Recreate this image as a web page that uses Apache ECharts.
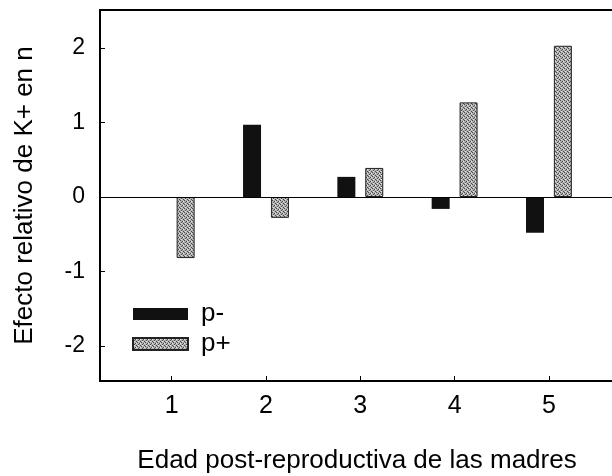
<!DOCTYPE html>
<html>
<head>
    <meta charset="utf-8">
    <title>Efecto relativo de K+ en n</title>
    <script src="https://cdn.jsdelivr.net/npm/echarts@6/dist/echarts.min.js"></script>
    <style>
        html, body {
            margin: 0;
            padding: 0;
            width: 612px;
            height: 476px;
            overflow: hidden;
            background: #fff;
        }

        #main {
            width: 612px;
            height: 476px;
        }
    </style>
</head>
<body>
<div id="main"></div>
<script type="text/javascript">
    var myChart = echarts.init(document.getElementById('main'));

    // 数据
    const ages = [1, 2, 3, 4, 5];
    const pMinus = [null, 0.97, 0.27, -0.16, -0.48];
    const pPlus = [-0.82, -0.28, 0.39, 1.27, 2.03];
    const yTicks = [-2, -1, 0, 1, 2];
    const seriesNames = ['p-', 'p+'];

    const font = 'Liberation Sans, Arial, sans-serif';

    // 点状灰色填充
    function stipple() {
        const c = document.createElement('canvas');
        c.width = 4;
        c.height = 4;
        const ctx = c.getContext('2d');
        ctx.fillStyle = '#b2b2b2';
        ctx.fillRect(0, 0, 4, 4);
        ctx.fillStyle = '#4a4a4a';
        ctx.fillRect(0, 0, 1, 1);
        ctx.fillRect(2, 1, 1, 1);
        ctx.fillRect(1, 2, 1, 1);
        ctx.fillRect(3, 3, 1, 1);
        ctx.fillStyle = '#e6e6e6';
        ctx.fillRect(3, 1, 1, 1);
        ctx.fillRect(1, 3, 1, 1);
        return {image: c, repeat: 'repeat'};
    }

    const pairs = vals => ages.map((a, i) => [a, vals[i] === null ? '-' : vals[i]]);

    const xMin = 0.24, xMax = 5.69;
    const yMin = -2.47, yMax = 2.51;

    var option = {
        animation: false,
        grid: {
            show: true,
            borderColor: '#000',
            borderWidth: 2,
            outerBoundsMode: 'none',
            left: 100,
            right: -2,
            top: 10,
            bottom: 95
        },
        legend: {
            orient: 'vertical',
            left: 127,
            top: 296,
            icon: 'rect',
            itemWidth: 55,
            itemHeight: 12,
            itemGap: 4,
            data: seriesNames,
            textStyle: {
                fontFamily: font,
                fontSize: 26,
                lineHeight: 26,
                padding: [0, 0, 0, 8],
                color: '#000'
            }
        },
        xAxis: {
            type: 'value',
            min: xMin,
            max: xMax,
            name: 'Edad post-reproductiva de las madres',
            nameLocation: 'middle',
            nameGap: 67,
            nameTextStyle: {
                fontFamily: font,
                fontSize: 26,
                color: '#000'
            },
            axisLine: {show: true, onZero: false, lineStyle: {color: '#000', width: 1.5}},
            axisTick: {show: true, inside: true, length: 5, customValues: ages, lineStyle: {color: '#000'}},
            axisLabel: {
                customValues: ages,
                margin: 13,
                fontFamily: font,
                fontSize: 25,
                color: '#000'
            },
            splitLine: {show: false}
        },
        yAxis: {
            type: 'value',
            min: yMin,
            max: yMax,
            name: 'Efecto relativo de K+ en n',
            nameLocation: 'middle',
            nameGap: 62,
            nameTextStyle: {
                fontFamily: font,
                fontSize: 26,
                color: '#000'
            },
            axisLine: {show: true, onZero: false, lineStyle: {color: '#000', width: 1}},
            axisTick: {show: true, inside: true, length: 5, customValues: yTicks, lineStyle: {color: '#000'}},
            axisLabel: {
                customValues: yTicks,
                margin: 15,
                fontFamily: font,
                fontSize: 23,
                color: '#000'
            },
            splitLine: {show: false}
        },
        series: [{
            name: seriesNames[0],
            type: 'bar',
            barWidth: 18,
            barGap: '55%',
            itemStyle: {color: '#111'},
            data: pairs(pMinus),
            markLine: {
                silent: true,
                symbol: 'none',
                label: {show: false},
                lineStyle: {color: '#000', width: 1.2, type: 'solid'},
                data: [{yAxis: 0}]
            }
        }, {
            name: seriesNames[1],
            type: 'bar',
            barWidth: 18,
            barGap: '55%',
            itemStyle: {color: stipple(), borderColor: '#222', borderWidth: 1},
            data: pairs(pPlus)
        }]
    };

    myChart.setOption(option);
</script>
</body>
</html>
